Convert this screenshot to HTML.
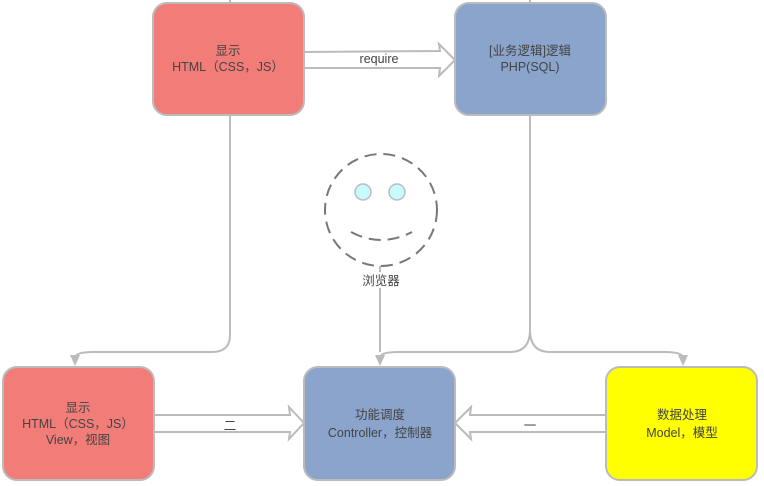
<!DOCTYPE html>
<html><head><meta charset="utf-8"><style>
html,body{margin:0;padding:0;background:#fff;width:764px;height:486px;overflow:hidden}
svg text{font-family:"Liberation Sans","Noto Sans CJK SC",sans-serif;font-size:12.5px;fill:#444}
</style></head><body>
<svg width="764" height="486" viewBox="0 0 764 486" xmlns="http://www.w3.org/2000/svg">
<g fill="none" stroke="#bbb" stroke-width="2">
<path d="M230,115 L230,335 Q230,352 212,352 L93,352 Q75,352 75,358" />
<path d="M530,115 L530,330 Q530,352 510,352 L398,352 Q380,352 380,358"/>
<path d="M530,330 Q530,352 550,352 L665,352 Q683,352 683,358"/>
<path d="M380,266 L380,352"/>
<path d="M230,0 L230,3 M530,0 L530,3"/>
</g>
<g fill="#bbb">
<path d="M70,355 L80,355 L75,366 Z"/>
<path d="M375,355 L385,355 L380,366 Z"/>
<path d="M678,355 L688,355 L683,366 Z"/>
</g>
<g fill="#fff" stroke="#bbb" stroke-width="2">
<path d="M304,52 L440,51 L439,44 L455,60 L439,76 L440,68 L304,68"/>
<path d="M154,415 L290,415 L289,407 L304,423 L289,439 L290,432 L154,432"/>
<path d="M606,415 L470,415 L471,407 L455,423 L471,439 L470,432 L606,432"/>
</g>
<g stroke="#bbb" stroke-width="2">
<rect x="153" y="3" width="151" height="112" rx="14" fill="#f27c78"/>
<rect x="455" y="3" width="151" height="112" rx="14" fill="#8aa4cc"/>
<rect x="3" y="367" width="151" height="113" rx="14" fill="#f27c78"/>
<rect x="304" y="367" width="151" height="113" rx="14" fill="#8aa4cc"/>
<rect x="606" y="367" width="151" height="113" rx="14" fill="#ffff00"/>
</g>
<circle cx="381" cy="210" r="56" fill="#fff" stroke="#777" stroke-width="2" stroke-dasharray="12,7"/>
<circle cx="363" cy="192" r="8" fill="#c8fcfc" stroke="#bbb" stroke-width="1.5"/>
<circle cx="397" cy="192" r="8" fill="#c8fcfc" stroke="#bbb" stroke-width="1.5"/>
<path d="M351,232 Q381,248 412,232" fill="none" stroke="#777" stroke-width="2" stroke-dasharray="12,7"/>
<rect x="358" y="272" width="46" height="16" fill="#fff"/>
<g text-anchor="middle">
<text x="228" y="55">显示</text><text x="228" y="71">HTML（CSS，JS）</text>
<text x="379" y="63">require</text>
<text x="530" y="55">[业务逻辑]逻辑</text><text x="530" y="71">PHP(SQL)</text>
<text x="381" y="285">浏览器</text>
<text x="78" y="412">显示</text><text x="78" y="428">HTML（CSS，JS）</text><text x="78" y="444">View，视图</text>
<text x="230" y="430">二</text>
<text x="380" y="419">功能调度</text><text x="380" y="437">Controller，控制器</text>
<text x="530" y="430">一</text>
<text x="682" y="419">数据处理</text><text x="682" y="437">Model，模型</text>
</g>
</svg>
</body></html>
